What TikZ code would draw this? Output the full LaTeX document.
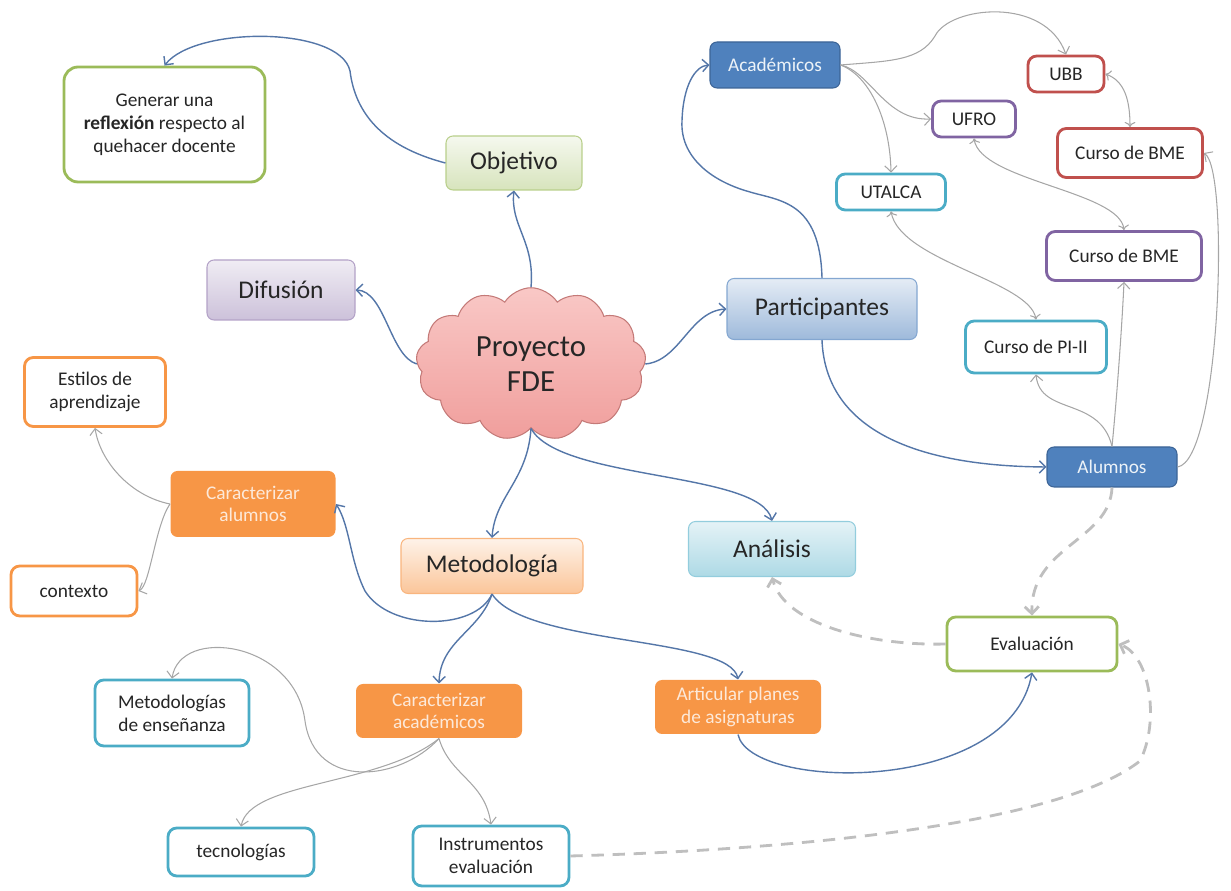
\documentclass[tikz,border=0pt]{standalone}
\usepackage{fontspec}
\setmainfont{Carlito}
\usepackage{tikz}
\usetikzlibrary{arrows.meta,shapes.symbols}
\definecolor{fdeText}{RGB}{38,38,38}
\definecolor{fdeBlueLine}{RGB}{84,118,168}
\definecolor{fdeGrayLine}{RGB}{166,166,166}
\definecolor{fdeDash}{RGB}{191,191,191}
\definecolor{fdeBlue}{RGB}{79,129,189}
\definecolor{fdeBlueDark}{RGB}{60,100,150}
\definecolor{fdeOrange}{RGB}{247,150,70}
\definecolor{fdeOrangeText}{RGB}{253,233,217}
\definecolor{fdeRed}{RGB}{192,80,77}
\definecolor{fdePurple}{RGB}{128,100,162}
\definecolor{fdeTeal}{RGB}{75,172,198}
\definecolor{fdeGreen}{RGB}{155,187,89}
\definecolor{fdeCloudTop}{RGB}{249,200,198}
\definecolor{fdeCloudBot}{RGB}{240,158,156}
\definecolor{fdeCloudLine}{RGB}{196,122,120}

\begin{document}
\begin{tikzpicture}[
  big/.style={draw,rounded corners=4pt,align=center,inner sep=0pt,font=\fontsize{14.5}{17}\selectfont,text=fdeText,line width=0.6pt},
  sub/.style={draw,rounded corners=5pt,align=center,inner sep=0pt,fill=white,line width=1.6pt,font=\fontsize{11}{13}\selectfont,text=fdeText},
  filled/.style={rounded corners=4pt,align=center,inner sep=0pt,font=\fontsize{11}{13}\selectfont,line width=0.6pt},
  link/.style={-{Straight Barb[length=3.5pt,width=7pt]},draw=fdeBlueLine,line width=0.8pt},
  sublink/.style={-{Straight Barb[length=3.5pt,width=7pt]},draw=fdeGrayLine,line width=0.6pt},
  dashlink/.style={-{Straight Barb[length=4pt,width=8pt]},draw=fdeDash,line width=1.6pt,dash pattern=on 7pt off 5pt}
]
  \useasboundingbox (0,0) rectangle (24.62,17.82);

  % centre
  \node[cloud,cloud puffs=13,cloud puff arc=115,aspect=1.5,minimum width=4.6cm,minimum height=3.05cm,
        draw=fdeCloudLine,line width=0.6pt,top color=fdeCloudTop,bottom color=fdeCloudBot,
        align=center,font=\fontsize{17.5}{20}\selectfont,text=fdeText] (cloud) at (10.62,10.54) {Proyecto\\FDE};

  % main branches
  \node[big,minimum width=2.72cm,minimum height=1.08cm,draw=fdeGreen!70,top color=fdeGreen!10,bottom color=fdeGreen!40] (obj) at (10.28,14.56) {Objetivo};
  \node[big,minimum width=2.96cm,minimum height=1.2cm,draw=fdePurple!60,top color=fdePurple!12,bottom color=fdePurple!40] (dif) at (5.62,12.02) {Difusión};
  \node[big,minimum width=3.8cm,minimum height=1.22cm,draw=fdeBlue!70,top color=fdeBlue!15,bottom color=fdeBlue!55] (part) at (16.44,11.64) {Participantes};
  \node[big,minimum width=3.64cm,minimum height=1.1cm,draw=fdeOrange!70,top color=fdeOrange!12,bottom color=fdeOrange!55] (metod) at (9.84,6.5) {Metodología};
  \node[big,minimum width=3.34cm,minimum height=1.1cm,draw=fdeTeal!60,top color=fdeTeal!15,bottom color=fdeTeal!45] (anal) at (15.44,6.84) {Análisis};

  \node[sub,draw=fdeGreen,rounded corners=8pt,minimum width=4.02cm,minimum height=2.3cm] (gen) at (3.29,15.33) {Generar una\\\textbf{reflexión} respecto al\\quehacer docente};

  % participantes
  \node[filled,fill=fdeBlue,draw=fdeBlueDark,text=white!90!fdeBlue,minimum width=2.6cm,minimum height=0.92cm] (acad) at (15.5,16.52) {Académicos};
  \node[filled,fill=fdeBlue,draw=fdeBlueDark,text=white!90!fdeBlue,minimum width=2.6cm,minimum height=0.8cm] (alum) at (22.24,8.48) {Alumnos};
  \node[sub,draw=fdeRed,minimum width=1.52cm,minimum height=0.72cm] (ubb) at (21.32,16.34) {UBB};
  \node[sub,draw=fdePurple,minimum width=1.66cm,minimum height=0.72cm] (ufro) at (19.48,15.44) {UFRO};
  \node[sub,draw=fdeTeal,minimum width=2.18cm,minimum height=0.72cm] (utalca) at (17.82,13.98) {UTALCA};
  \node[sub,draw=fdeRed,minimum width=2.9cm,minimum height=0.98cm] (bmeR) at (22.6,14.76) {Curso de BME};
  \node[sub,draw=fdePurple,minimum width=3.1cm,minimum height=0.98cm] (bmeP) at (22.48,12.7) {Curso de BME};
  \node[sub,draw=fdeTeal,minimum width=2.82cm,minimum height=1.04cm] (pi) at (20.72,10.88) {Curso de PI-II};

  % metodologia
  \node[filled,fill=fdeOrange,text=fdeOrangeText,minimum width=3.3cm,minimum height=1.32cm] (calum) at (5.06,7.74) {Caracterizar\\alumnos};
  \node[filled,fill=fdeOrange,text=fdeOrangeText,minimum width=3.32cm,minimum height=1.08cm] (cacad) at (8.78,3.6) {Caracterizar\\académicos};
  \node[filled,fill=fdeOrange,text=fdeOrangeText,minimum width=3.32cm,minimum height=1.08cm] (artic) at (14.76,3.68) {Articular planes\\de asignaturas};
  \node[sub,draw=fdeOrange,minimum width=2.82cm,minimum height=1.38cm] (estilos) at (1.9,9.98) {Estilos de\\aprendizaje};
  \node[sub,draw=fdeOrange,minimum width=2.52cm,minimum height=1.0cm] (contexto) at (1.48,6.0) {contexto};
  \node[sub,draw=fdeTeal,minimum width=3.08cm,minimum height=1.32cm] (metens) at (3.44,3.56) {Metodologías\\de enseñanza};
  \node[sub,draw=fdeTeal,minimum width=2.92cm,minimum height=0.96cm] (tecn) at (4.82,0.78) {tecnologías};
  \node[sub,draw=fdeTeal,minimum width=3.12cm,minimum height=1.2cm] (instr) at (9.82,0.7) {Instrumentos\\evaluación};
  \node[sub,draw=fdeGreen,minimum width=3.4cm,minimum height=1.08cm] (eval) at (20.64,4.94) {Evaluación};

  % blue links
  \draw[link] (cloud.north) .. controls (10.7,13.0) and (10.2,13.3) .. (obj.south);
  \draw[link] (obj.west) .. controls (7.6,14.9) and (7.1,15.6) .. (7.0,16.4) .. controls (6.8,17.3) and (3.9,17.3) .. (gen.north);
  \draw[link] (cloud.west) .. controls (7.8,10.7) and (7.7,12.0) .. (dif.east);
  \draw[link] (cloud.east) .. controls (13.6,10.6) and (13.8,11.6) .. (part.west);
  \draw[link] (part.north) .. controls (16.4,13.8) and (15.6,13.8) .. (15.0,13.98) .. controls (14.2,14.2) and (13.6,14.7) .. (13.64,15.4) .. controls (13.66,16.1) and (13.9,16.5) .. (acad.west);
  \draw[link] (part.south) .. controls (16.5,9.4) and (18.0,8.5) .. (alum.west);
  \draw[link] (cloud.south) .. controls (10.55,8.2) and (9.9,7.9) .. (metod.north);
  \draw[link] (cloud.south) .. controls (11.2,8.2) and (15.2,8.4) .. (anal.north);
  \draw[link] (metod.south) .. controls (9.5,5.2) and (7.8,5.2) .. (7.3,6.0) .. controls (7.0,6.6) and (7.0,7.3) .. (calum.east);
  \draw[link] (metod.south) .. controls (9.6,5.2) and (8.8,5.0) .. (cacad.north);
  \draw[link] (metod.south) .. controls (10.5,4.9) and (14.6,5.1) .. (artic.north);
  \draw[link] (artic.south) .. controls (15.0,2.0) and (20.2,1.9) .. (eval.south);

  % grey links
  \draw[sublink] (acad.east) .. controls (17.8,16.6) and (18.4,16.6) .. (18.7,17.1) .. controls (19.0,17.7) and (20.9,17.9) .. (ubb.north);
  \draw[sublink] (acad.east) .. controls (17.4,16.4) and (17.7,15.4) .. (ufro.west);
  \draw[sublink] (acad.east) .. controls (17.4,16.3) and (17.8,15.4) .. (utalca.north);
  \draw[sublink,<->] (ubb.east) .. controls (22.5,16.2) and (22.6,15.8) .. (bmeR.north);
  \draw[sublink,<->] (ufro.south) .. controls (19.6,14.2) and (22.4,14.0) .. (bmeP.north);
  \draw[sublink,<->] (utalca.south) .. controls (18.0,12.6) and (20.6,12.2) .. (pi.north);
  \draw[sublink] (alum.north) .. controls (22.0,9.9) and (20.8,9.5) .. (pi.south);
  \draw[sublink] (alum.north) .. controls (22.35,10.0) and (22.45,11.5) .. (bmeP.south);
  \draw[sublink] (alum.east) .. controls (24.4,8.6) and (24.6,14.4) .. (bmeR.east);
  \draw[sublink] (calum.west) .. controls (2.6,7.9) and (2.0,8.6) .. (estilos.south);
  \draw[sublink] (calum.west) .. controls (3.1,7.3) and (3.0,6.1) .. (contexto.east);
  \draw[sublink] (cacad.south) .. controls (8.0,2.2) and (6.3,2.0) .. (6.1,3.4) .. controls (5.9,5.0) and (3.6,5.3) .. (metens.north);
  \draw[sublink] (cacad.south) .. controls (7.6,2.1) and (5.0,2.2) .. (tecn.north);
  \draw[sublink] (cacad.south) .. controls (9.0,2.3) and (9.7,2.2) .. (instr.north);

  % dashed links
  \draw[dashlink] (alum.south) .. controls (22.2,7.0) and (20.6,6.9) .. (eval.north);
  \draw[dashlink] (eval.west) .. controls (17.5,4.9) and (15.7,5.3) .. (anal.south);
  \draw[dashlink] (instr.east) .. controls (15.0,0.8) and (21.0,1.2) .. (22.8,2.6) .. controls (23.2,3.4) and (23.0,4.7) .. (eval.east);
\end{tikzpicture}
\end{document}
